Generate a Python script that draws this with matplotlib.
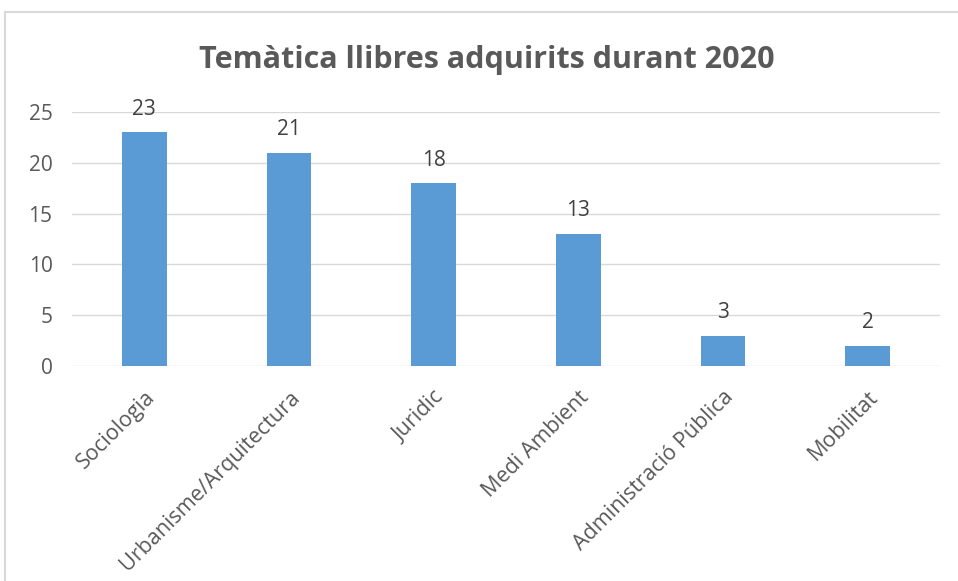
import matplotlib.pyplot as plt
from matplotlib.patches import Rectangle

categories = ['Sociologia', 'Urbanisme/Arquitectura', 'Juridic', 'Medi Ambient',
              'Administració Pública', 'Mobilitat']
values = [23, 21, 18, 13, 3, 2]
yticks = [0, 5, 10, 15, 20, 25]

plt.rcParams['font.family'] = ['Open Sans', 'DejaVu Sans']

W, H = 958, 581
fig = plt.figure(figsize=(W / 100, H / 100), dpi=100)
# chart frame: only top and left edges fall inside the picture
fig.patches.append(Rectangle((5 / W, -0.05), 1.2, 1.05 - 12 / H,
                             transform=fig.transFigure, fill=False,
                             edgecolor='#d9d9d9', linewidth=1.5))

ax = fig.add_axes([72 / W, (H - 366) / H, (940 - 72) / W, (366 - 112) / H])
x = range(len(categories))
bars = ax.bar(x, values, width=0.31, color='#5b9bd5', zorder=3)
for b, v in zip(bars, values):
    ax.annotate(str(v), (b.get_x() + b.get_width() / 2, v), xytext=(0, 9),
                textcoords='offset points', ha='center', va='bottom',
                fontsize=15, color='#404040')

ax.set_xlim(-0.5, len(categories) - 0.5)
ax.set_ylim(0, 25)
ax.set_yticks(yticks)
ax.grid(axis='y', color='#d9d9d9', linewidth=1, zorder=0)
for s in ax.spines.values():
    s.set_visible(False)
ax.tick_params(axis='both', length=0, labelcolor='#595959')
ax.tick_params(axis='y', pad=14, labelsize=15)
ax.set_xticks(list(x))
ax.set_xticklabels(categories, rotation=45, ha='right', rotation_mode='anchor')
ax.tick_params(axis='x', pad=15, labelsize=15.5)

fig.text(487 / W, 1 - 60 / H, 'Temàtica llibres adquirits durant 2020',
         ha='center', va='center', fontsize=22, fontweight='bold', color='#595959')

fig.savefig('out.png', dpi=100)
